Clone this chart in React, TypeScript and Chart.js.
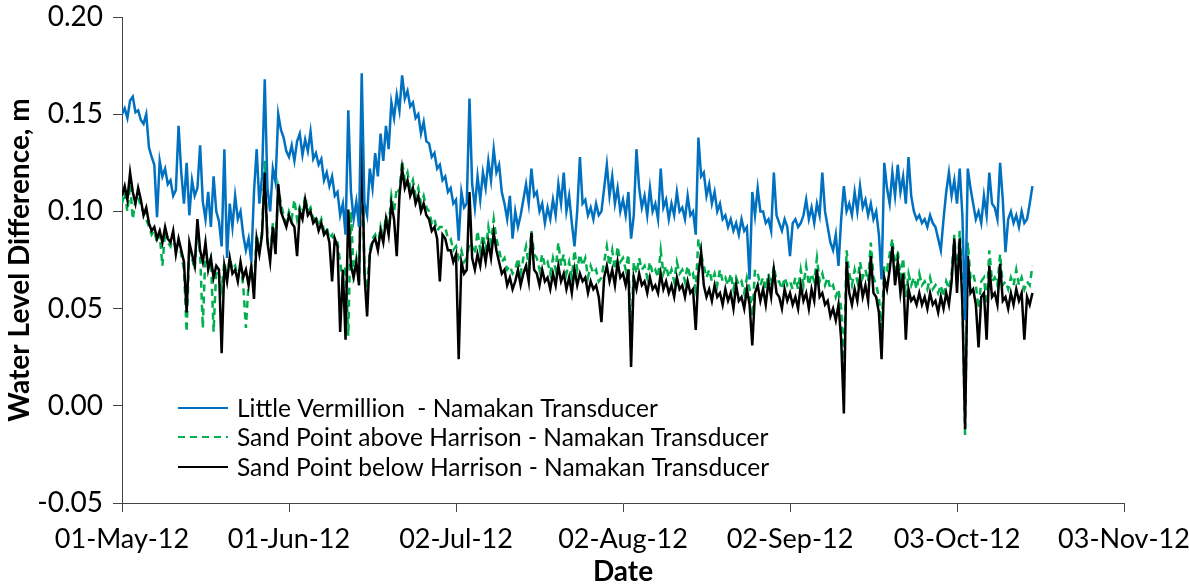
import React, { useEffect, useRef } from "react";
import { Chart, registerables } from "chart.js";

Chart.register(...registerables);

// ---------- data ----------
const SERIES_NAMES = [
  "Little Vermillion  - Namakan Transducer",
  "Sand Point above Harrison - Namakan Transducer",
  "Sand Point below Harrison - Namakan Transducer",
];
const SERIES_COLORS = ["#0070C0", "#00B050", "#000000"];

// days after 01-May-12
const X_TICK_DAYS = [0, 31, 62, 93, 124, 155, 186];
const X_TICK_LABELS = ["01-May-12", "01-Jun-12", "02-Jul-12", "02-Aug-12", "02-Sep-12", "03-Oct-12", "03-Nov-12"];
const Y_TICKS = [-0.05, 0, 0.05, 0.1, 0.15, 0.2];

// readings every half day starting 01-May-12, in millimetres
const SAMPLE_STEP_DAYS = 0.5;

const littleVermillionMm = [
  150, 153, 148, 157, 159, 151, 152, 147, 145, 150, 133, 128, 124, 97, 126, 118, 122, 114, 116, 108,
  111, 144, 120, 104, 125, 98, 116, 108, 112, 134, 105, 96, 110, 92, 118, 100, 95, 82, 132, 76,
  104, 92, 108, 96, 100, 88, 80, 86, 74, 110, 132, 104, 118, 168, 112, 100, 122, 115, 150, 142,
  138, 131, 128, 134, 126, 136, 140, 129, 137, 131, 141, 127, 130, 124, 127, 116, 120, 113, 118, 108,
  110, 98, 104, 88, 152, 110, 96, 105, 92, 171, 104, 98, 122, 112, 130, 118, 140, 126, 144, 132,
  156, 148, 160, 152, 170, 158, 162, 154, 156, 148, 150, 140, 146, 136, 135, 128, 130, 122, 124, 116,
  118, 110, 112, 104, 106, 85, 110, 102, 104, 158, 114, 102, 118, 106, 120, 112, 126, 116, 132, 120,
  124, 110, 104, 96, 108, 86, 100, 92, 98, 106, 114, 104, 122, 108, 110, 100, 104, 94, 102, 96,
  106, 98, 114, 104, 120, 100, 108, 94, 82, 100, 128, 104, 106, 98, 102, 96, 104, 98, 100, 112,
  124, 108, 118, 104, 112, 100, 106, 98, 110, 86, 98, 132, 112, 102, 108, 98, 112, 100, 104, 96,
  122, 102, 106, 96, 104, 98, 110, 100, 102, 96, 108, 98, 100, 88, 138, 118, 120, 108, 114, 104,
  110, 100, 104, 96, 98, 92, 96, 90, 94, 88, 96, 90, 92, 65, 110, 98, 112, 100, 100, 94,
  96, 90, 120, 98, 94, 90, 96, 92, 77, 94, 96, 92, 94, 98, 106, 96, 102, 94, 104, 98,
  120, 100, 92, 84, 80, 88, 72, 96, 113, 100, 104, 98, 110, 100, 113, 102, 106, 98, 104, 96,
  100, 88, 65, 125, 112, 104, 120, 108, 124, 110, 118, 104, 128, 108, 100, 96, 98, 94, 96, 92,
  98, 94, 92, 86, 80, 96, 110, 120, 108, 116, 104, 122, 98, 44, 122, 112, 104, 96, 100, 94,
  108, 98, 120, 104, 102, 96, 125, 106, 79, 96, 100, 94, 98, 92, 100, 94, 96, 104, 113,
];

const sandPointAboveMm = [
  104, 110, 100, 114, 96, 106, 108, 102, 100, 96, 92, 88, 90, 84, 88, 72, 90, 84, 82, 88,
  80, 84, 78, 70, 38, 82, 76, 70, 92, 78, 40, 80, 72, 76, 38, 70, 68, 60, 74, 66,
  76, 70, 72, 66, 72, 62, 40, 64, 70, 62, 88, 80, 90, 126, 86, 76, 94, 82, 112, 104,
  98, 94, 100, 96, 106, 96, 102, 98, 108, 100, 102, 96, 98, 92, 96, 90, 92, 86, 88, 84,
  84, 74, 64, 72, 36, 100, 68, 76, 64, 134, 70, 60, 80, 86, 88, 82, 92, 86, 98, 92,
  108, 100, 112, 110, 126, 116, 120, 112, 116, 108, 112, 104, 108, 102, 100, 94, 96, 90, 92, 92,
  92, 86, 86, 80, 82, 76, 80, 74, 76, 84, 82, 78, 90, 80, 88, 80, 92, 84, 96, 86,
  80, 74, 76, 70, 72, 68, 70, 76, 68, 76, 82, 72, 90, 78, 76, 70, 78, 72, 74, 68,
  76, 70, 84, 72, 78, 68, 74, 66, 80, 70, 78, 72, 76, 66, 72, 68, 70, 64, 66, 74,
  82, 72, 80, 70, 82, 74, 76, 70, 78, 30, 74, 68, 76, 70, 72, 66, 74, 68, 70, 66,
  80, 68, 72, 66, 70, 64, 74, 68, 70, 64, 72, 66, 68, 60, 86, 78, 72, 66, 70, 64,
  68, 62, 70, 64, 66, 62, 68, 60, 66, 62, 64, 58, 66, 60, 46, 70, 68, 62, 66, 60,
  68, 62, 72, 64, 64, 60, 66, 62, 64, 60, 66, 60, 70, 62, 72, 62, 68, 64, 76, 64,
  68, 62, 66, 60, 62, 56, 60, 50, 20, 80, 68, 62, 70, 64, 74, 66, 70, 64, 84, 66,
  62, 56, 40, 72, 70, 78, 86, 70, 80, 66, 76, 56, 68, 62, 66, 60, 68, 62, 64, 60,
  66, 60, 62, 58, 62, 56, 64, 60, 68, 88, 64, 90, 58, -15, 84, 66, 68, 62, 50, 64,
  66, 52, 80, 64, 66, 62, 78, 62, 64, 60, 66, 62, 70, 62, 66, 60, 64, 62, 72,
];

const sandPointBelowMm = [
  108, 113, 106, 120, 110, 104, 112, 106, 98, 102, 94, 90, 92, 86, 90, 84, 92, 86, 84, 90,
  78, 86, 80, 74, 48, 84, 78, 72, 96, 80, 74, 84, 70, 76, 66, 72, 70, 27, 72, 64,
  76, 68, 70, 64, 74, 66, 70, 62, 72, 55, 86, 78, 88, 120, 84, 74, 92, 78, 114, 100,
  96, 92, 98, 94, 92, 77, 100, 96, 106, 98, 100, 94, 96, 90, 94, 88, 90, 84, 64, 86,
  82, 38, 70, 34, 101, 72, 66, 74, 62, 142, 68, 46, 78, 84, 86, 80, 90, 84, 96, 88,
  104, 96, 77, 108, 122, 112, 116, 108, 112, 104, 108, 100, 104, 98, 96, 90, 92, 86, 64, 88,
  86, 80, 80, 74, 78, 24, 74, 68, 70, 110, 76, 70, 78, 72, 82, 74, 84, 76, 89, 80,
  74, 68, 70, 62, 66, 60, 64, 70, 62, 68, 72, 64, 89, 70, 68, 62, 70, 64, 66, 60,
  68, 62, 72, 64, 68, 60, 66, 58, 70, 62, 68, 64, 66, 58, 64, 60, 62, 56, 43, 66,
  72, 64, 70, 62, 74, 66, 68, 62, 70, 20, 66, 60, 68, 62, 64, 58, 66, 60, 62, 58,
  68, 60, 64, 58, 62, 56, 66, 60, 62, 56, 64, 58, 60, 39, 68, 79, 62, 56, 60, 54,
  62, 56, 58, 52, 60, 54, 58, 50, 62, 54, 56, 50, 60, 52, 31, 58, 62, 54, 60, 52,
  64, 56, 70, 58, 56, 50, 60, 54, 58, 52, 56, 50, 62, 54, 58, 50, 60, 54, 70, 56,
  58, 52, 54, 46, 50, 44, 52, 34, -4, 74, 58, 52, 60, 54, 66, 56, 62, 54, 77, 58,
  56, 48, 24, 66, 60, 70, 82, 62, 74, 58, 68, 34, 60, 54, 56, 52, 58, 52, 56, 50,
  58, 52, 54, 48, 56, 50, 58, 52, 64, 86, 58, 86, 52, -12, 77, 58, 60, 52, 30, 56,
  58, 34, 72, 56, 58, 52, 73, 54, 56, 50, 58, 52, 60, 54, 58, 34, 56, 52, 58,
];

const SERIES_MM = [littleVermillionMm, sandPointAboveMm, sandPointBelowMm];
const SERIES_DASH = [[], [7, 5], []];
const SERIES_DRAW_ORDER = [0, 2, 1];

const FONT = "Lato, 'Open Sans', sans-serif";

function toPoints(mm: number[]) {
  return mm.map((v, i) => ({ x: i * SAMPLE_STEP_DAYS, y: v / 1000 }));
}

const insideLegend = {
  id: "insideLegend",
  afterDraw(chart: any) {
    const { ctx, chartArea } = chart;
    const x0 = chartArea.left + 56;
    const lineLen = 50;
    const rowY = [chartArea.top + 391, chartArea.top + 420, chartArea.top + 450];
    ctx.save();
    ctx.font = `24.5px ${FONT}`;
    ctx.textBaseline = "middle";
    ctx.textAlign = "left";
    chart.data.datasets.forEach((ds: any, i: number) => {
      const y = rowY[i];
      ctx.beginPath();
      ctx.setLineDash(ds.borderDash || []);
      ctx.strokeStyle = ds.borderColor;
      ctx.lineWidth = 2;
      ctx.moveTo(x0, y);
      ctx.lineTo(x0 + lineLen, y);
      ctx.stroke();
      ctx.setLineDash([]);
      ctx.fillStyle = "#000";
      ctx.fillText(ds.label, x0 + lineLen + 9, y + 1);
    });
    ctx.restore();
  },
};

export default function App() {
  const canvasRef = useRef<HTMLCanvasElement | null>(null);

  useEffect(() => {
    document.body.style.margin = "0";
    const canvas = canvasRef.current;
    if (!canvas) return;
    const chart = new Chart(canvas, {
      type: "line",
      data: {
        datasets: SERIES_NAMES.map((name, i) => ({
          label: name,
          data: toPoints(SERIES_MM[i]),
          borderColor: SERIES_COLORS[i],
          backgroundColor: SERIES_COLORS[i],
          borderWidth: 2.5,
          borderDash: SERIES_DASH[i],
          pointRadius: 0,
          tension: 0,
          fill: false,
          order: SERIES_DRAW_ORDER[i],
        })),
      },
      options: {
        animation: false,
        responsive: false,
        devicePixelRatio: 1,
        layout: { padding: { top: 17, right: 65, left: 0, bottom: 0 } },
        plugins: {
          legend: { display: false },
          tooltip: { enabled: false },
        },
        scales: {
          x: {
            type: "linear",
            min: X_TICK_DAYS[0],
            max: X_TICK_DAYS[X_TICK_DAYS.length - 1],
            afterBuildTicks: (s: any) => {
              s.ticks = X_TICK_DAYS.map((v) => ({ value: v }));
            },
            afterFit: (s: any) => {
              s.height = 83;
              s.paddingLeft = 0;
              s.paddingRight = 0;
            },
            ticks: {
              autoSkip: false,
              maxRotation: 0,
              padding: 11,
              color: "#000",
              font: { family: FONT, size: 27 },
              callback: (_v: any, idx: number) => X_TICK_LABELS[idx],
            },
            grid: { drawOnChartArea: false, drawTicks: true, tickLength: 9, color: "#444" },
            border: { display: true, color: "#444", width: 1 },
            title: {
              display: true,
              text: "Date",
              color: "#000",
              font: { family: FONT, size: 28, weight: "bold", lineHeight: 1.0 },
              padding: { top: 0, bottom: 0 },
            },
          },
          y: {
            type: "linear",
            min: Y_TICKS[0],
            max: Y_TICKS[Y_TICKS.length - 1],
            afterBuildTicks: (s: any) => {
              s.ticks = Y_TICKS.map((v) => ({ value: v }));
            },
            afterFit: (s: any) => {
              s.width = 122;
              s.paddingTop = 0;
              s.paddingBottom = 0;
            },
            ticks: {
              padding: 10,
              color: "#000",
              font: { family: FONT, size: 28 },
              callback: (v: any) => Number(v).toFixed(2),
            },
            grid: { drawOnChartArea: false, drawTicks: true, tickLength: 9, color: "#444" },
            border: { display: true, color: "#444", width: 1 },
            title: {
              display: true,
              text: "Water Level Difference, m",
              color: "#000",
              font: { family: FONT, size: 28, weight: "bold", lineHeight: 1.2 },
              padding: { top: 3, bottom: 0 },
            },
          },
        },
      },
      plugins: [insideLegend],
    } as any);
    return () => chart.destroy();
  }, []);

  return (
    <div style={{ width: 1189, height: 586, position: "relative" }}>
      <canvas ref={canvasRef} width={1189} height={586} style={{ display: "block" }} />
    </div>
  );
}
